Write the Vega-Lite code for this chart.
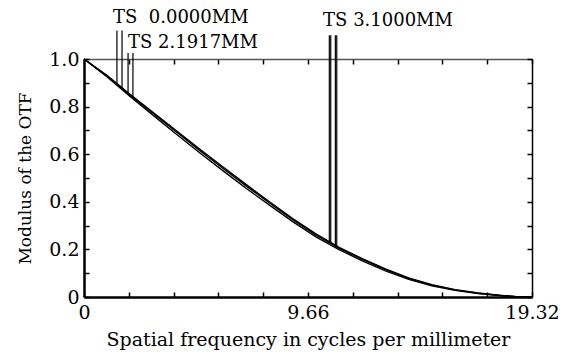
{
  "$schema": "https://vega.github.io/schema/vega-lite/v6.json",
  "width": 448,
  "height": 238,
  "autosize": {"type": "none"},
  "padding": {"left": 84, "top": 59, "right": 38, "bottom": 58},
  "background": "white",
  "config": {
    "view": {"stroke": null},
    "font": "DejaVu Serif",
    "axis": {"grid": false, "labelFont": "DejaVu Serif", "titleFont": "DejaVu Serif", "labelColor": "black", "titleColor": "black", "labelFontSize": 19, "titleFontSize": 18, "titleFontWeight": "normal", "tickColor": "black", "domainColor": "black"}
  },
  "datasets": {
    "curves": [
      {"f": 0, "m": 1.0, "s": "T1"}, {"f": 1, "m": 0.928, "s": "T1"}, {"f": 2, "m": 0.848, "s": "T1"}, {"f": 3, "m": 0.77, "s": "T1"}, {"f": 4, "m": 0.692, "s": "T1"}, {"f": 5, "m": 0.615, "s": "T1"}, {"f": 6, "m": 0.54, "s": "T1"}, {"f": 7, "m": 0.466, "s": "T1"}, {"f": 8, "m": 0.395, "s": "T1"}, {"f": 9, "m": 0.325, "s": "T1"}, {"f": 10, "m": 0.26, "s": "T1"}, {"f": 11, "m": 0.205, "s": "T1"}, {"f": 12, "m": 0.158, "s": "T1"}, {"f": 13, "m": 0.115, "s": "T1"}, {"f": 14, "m": 0.078, "s": "T1"}, {"f": 15, "m": 0.05, "s": "T1"}, {"f": 16, "m": 0.03, "s": "T1"}, {"f": 17, "m": 0.016, "s": "T1"}, {"f": 18, "m": 0.006, "s": "T1"}, {"f": 18.6, "m": 0.001, "s": "T1"}, {"f": 19.32, "m": 0.0, "s": "T1"},
      {"f": 0, "m": 1.0, "s": "S1"}, {"f": 1, "m": 0.925, "s": "S1"}, {"f": 2, "m": 0.842, "s": "S1"}, {"f": 3, "m": 0.762, "s": "S1"}, {"f": 4, "m": 0.683, "s": "S1"}, {"f": 5, "m": 0.605, "s": "S1"}, {"f": 6, "m": 0.53, "s": "S1"}, {"f": 7, "m": 0.456, "s": "S1"}, {"f": 8, "m": 0.386, "s": "S1"}, {"f": 9, "m": 0.317, "s": "S1"}, {"f": 10, "m": 0.253, "s": "S1"}, {"f": 11, "m": 0.199, "s": "S1"}, {"f": 12, "m": 0.152, "s": "S1"}, {"f": 13, "m": 0.11, "s": "S1"}, {"f": 14, "m": 0.074, "s": "S1"}, {"f": 15, "m": 0.047, "s": "S1"}, {"f": 16, "m": 0.028, "s": "S1"}, {"f": 17, "m": 0.014, "s": "S1"}, {"f": 18, "m": 0.005, "s": "S1"}, {"f": 18.6, "m": 0.001, "s": "S1"}, {"f": 19.32, "m": 0.0, "s": "S1"},
      {"f": 0, "m": 1.0, "s": "T2"}, {"f": 1, "m": 0.93, "s": "T2"}, {"f": 2, "m": 0.851, "s": "T2"}, {"f": 3, "m": 0.774, "s": "T2"}, {"f": 4, "m": 0.697, "s": "T2"}, {"f": 5, "m": 0.621, "s": "T2"}, {"f": 6, "m": 0.546, "s": "T2"}, {"f": 7, "m": 0.472, "s": "T2"}, {"f": 8, "m": 0.4, "s": "T2"}, {"f": 9, "m": 0.33, "s": "T2"}, {"f": 10, "m": 0.265, "s": "T2"}, {"f": 11, "m": 0.209, "s": "T2"}, {"f": 12, "m": 0.161, "s": "T2"}, {"f": 13, "m": 0.118, "s": "T2"}, {"f": 14, "m": 0.08, "s": "T2"}, {"f": 15, "m": 0.052, "s": "T2"}, {"f": 16, "m": 0.031, "s": "T2"}, {"f": 17, "m": 0.017, "s": "T2"}, {"f": 18, "m": 0.007, "s": "T2"}, {"f": 18.6, "m": 0.002, "s": "T2"}, {"f": 19.32, "m": 0.0, "s": "T2"}
    ],
    "markers": [
      {"f": 1.42, "top": 1.12, "bot": 0.899},
      {"f": 1.64, "top": 1.12, "bot": 0.87},
      {"f": 1.9, "top": 1.025, "bot": 0.849},
      {"f": 2.11, "top": 1.025, "bot": 0.836},
      {"f": 10.58, "top": 1.1, "bot": 0.227},
      {"f": 10.64, "top": 1.1, "bot": 0.225},
      {"f": 10.84, "top": 1.1, "bot": 0.21},
      {"f": 10.9, "top": 1.1, "bot": 0.208}
    ],
    "labels": [
      {"f": 1.25, "y": 1.15, "t": "TS\u00a0 0.0000MM"},
      {"f": 1.9, "y": 1.045, "t": "TS 2.1917MM"},
      {"f": 10.31, "y": 1.137, "t": "TS 3.1000MM"}
    ]
  },
  "resolve": {"axis": {"x": "independent", "y": "independent"}},
  "layer": [
    {
      "data": {"name": "curves"},
      "mark": {"type": "line", "color": "black", "strokeWidth": 1.4},
      "encoding": {
        "x": {"field": "f", "type": "quantitative", "scale": {"domain": [0, 19.32], "nice": false, "zero": false},
          "axis": {"orient": "bottom", "title": "Spatial frequency in cycles per millimeter", "titleFontSize": 19, "titlePadding": 8, "domainWidth": 2.5, "tickSize": -5, "tickWidth": 1.5, "labelPadding": 11,
            "values": [0, 1.932, 3.864, 5.796, 7.728, 9.66, 11.592, 13.524, 15.456, 17.388, 19.32],
            "labelExpr": "datum.value == 0 ? '0' : (abs(datum.value - 9.66) < 0.01 ? '9.66' : (abs(datum.value - 19.32) < 0.01 ? '19.32' : ''))", "labelFlush": false, "labelOverlap": false}},
        "y": {"field": "m", "type": "quantitative", "scale": {"domain": [0, 1], "nice": false},
          "axis": {"orient": "left", "title": "Modulus of the OTF", "titleFontSize": 17, "titlePadding": 14, "domainWidth": 2.5, "tickSize": -5, "tickWidth": 1.5, "labelPadding": 10,
            "values": [0, 0.1, 0.2, 0.3, 0.4, 0.5, 0.6, 0.7, 0.8, 0.9, 1.0],
            "labelExpr": "datum.value == 0 ? '0' : (round(datum.value * 10) % 2 == 0 ? format(datum.value, '.1f') : '')", "labelOverlap": false, "labelFlush": false}},
        "detail": {"field": "s"}
      }
    },
    {
      "data": {"name": "markers"},
      "mark": {"type": "rule", "color": "black", "strokeWidth": 1.2},
      "encoding": {
        "x": {"field": "f", "type": "quantitative", "scale": {"domain": [0, 19.32], "nice": false, "zero": false},
          "axis": {"orient": "top", "title": null, "labels": false, "domainWidth": 1.5, "domainColor": "#555555", "tickSize": -5, "tickWidth": 1.5,
            "values": [0, 1.932, 3.864, 5.796, 7.728, 9.66, 11.592, 13.524, 15.456, 17.388, 19.32]}},
        "y": {"field": "top", "type": "quantitative", "scale": {"domain": [0, 1], "nice": false},
          "axis": {"orient": "right", "title": null, "labels": false, "domainWidth": 1.5, "tickSize": -5, "tickWidth": 1.5,
            "values": [0, 0.1, 0.2, 0.3, 0.4, 0.5, 0.6, 0.7, 0.8, 0.9, 1.0]}},
        "y2": {"field": "bot"}
      }
    },
    {
      "data": {"name": "labels"},
      "mark": {"type": "text", "align": "left", "baseline": "alphabetic", "font": "DejaVu Serif", "fontSize": 18, "color": "black"},
      "encoding": {
        "x": {"field": "f", "type": "quantitative", "axis": null},
        "y": {"field": "y", "type": "quantitative", "axis": null},
        "text": {"field": "t"}
      }
    }
  ]
}
